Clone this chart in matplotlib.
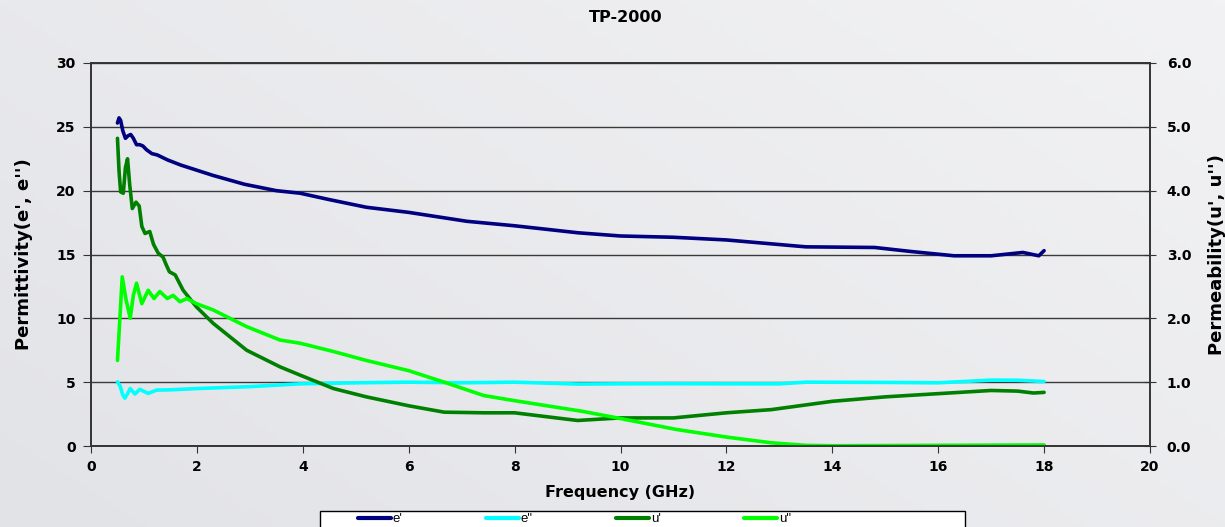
import numpy as np
import matplotlib
matplotlib.use("Agg")
import matplotlib.pyplot as plt
from matplotlib.patches import Rectangle

# ---- data (frequency in GHz) ----
f_e1 = [0.50, 0.53, 0.56, 0.60, 0.65, 0.70, 0.75, 0.80, 0.86, 0.92, 0.98, 1.05, 1.15,
        1.25, 1.45, 1.70, 2.0, 2.3, 2.9, 3.5, 3.95, 4.5, 5.2, 6, 7.1, 8, 9.2, 10, 11, 12,
        13.5, 14.8, 15.5, 16.3, 17.0, 17.6, 17.9, 18.0]
e1 = [25.3, 25.7, 25.5, 24.7, 24.1, 24.3, 24.4, 24.1, 23.6, 23.6, 23.5, 23.2, 22.9,
      22.8, 22.4, 22.0, 21.6, 21.2, 20.5, 20.0, 19.8, 19.3, 18.7, 18.3, 17.6, 17.25, 16.7,
      16.45, 16.35, 16.14, 15.6, 15.55, 15.23, 14.9, 14.9, 15.16, 14.9, 15.3]

f_e2 = [0.50, 0.55, 0.60, 0.64, 0.69, 0.74, 0.83, 0.92, 1.08, 1.24, 1.5, 2, 3, 3.95, 5,
        6, 7, 8, 9.2, 10, 11, 12, 13, 13.5, 15, 16, 17, 17.5, 18]
e2 = [5.03, 4.7, 4.0, 3.75, 4.1, 4.5, 4.07, 4.44, 4.12, 4.38, 4.4, 4.5, 4.65, 4.87, 4.95,
      5.0, 4.95, 5.0, 4.85, 4.87, 4.88, 4.87, 4.87, 5.0, 4.98, 4.95, 5.16, 5.15, 5.05]

f_u1 = [0.50, 0.53, 0.56, 0.61, 0.65, 0.69, 0.73, 0.78, 0.85, 0.91, 0.96, 1.02, 1.11,
        1.18, 1.27, 1.36, 1.42, 1.48, 1.59, 1.74, 1.99, 2.31, 2.94, 3.57, 3.95, 4.58, 5.2,
        6, 6.67, 7.42, 8, 8.69, 9.19, 10, 11, 12, 12.85, 14, 15, 16, 17, 17.5, 17.8, 18.0]
u1 = [4.82, 4.30, 3.98, 3.96, 4.36, 4.50, 4.10, 3.72, 3.82, 3.76, 3.44, 3.33, 3.36,
      3.16, 3.02, 2.96, 2.84, 2.73, 2.68, 2.44, 2.18, 1.92, 1.50, 1.24, 1.11, 0.90, 0.77,
      0.63, 0.53, 0.52, 0.52, 0.45, 0.40, 0.44, 0.44, 0.52, 0.57, 0.70, 0.77, 0.82, 0.87,
      0.86, 0.83, 0.84]

f_u2 = [0.50, 0.59, 0.66, 0.74, 0.80, 0.86, 0.96, 1.08, 1.19, 1.30, 1.44, 1.55, 1.68,
        1.81, 1.99, 2.31, 2.94, 3.57, 3.95, 4.58, 5.2, 6, 6.67, 7.42, 8, 8.69, 9.3, 10,
        11.05, 12, 12.85, 13.5, 14, 16, 18]
u2 = [1.34, 2.65, 2.30, 2.00, 2.36, 2.55, 2.23, 2.44, 2.31, 2.42, 2.31, 2.36, 2.26,
      2.31, 2.23, 2.13, 1.87, 1.66, 1.61, 1.48, 1.34, 1.18, 1.00, 0.79, 0.71, 0.62, 0.54,
      0.43, 0.26, 0.14, 0.05, 0.01, 0.004, 0.01, 0.016]

x_ticks = list(range(0, 21, 2))
left_ticks = [0, 5, 10, 15, 20, 25, 30]
right_ticks = [0.0, 1.0, 2.0, 3.0, 4.0, 5.0, 6.0]

plt.rcParams["font.family"] = ["DejaVu Sans"]

fig = plt.figure(figsize=(12.25, 5.27), dpi=100)
fig.patch.set_facecolor("#e6e7eb")

# soft background gradient like the original slide
bg = fig.add_axes([0, 0, 1, 1], zorder=-10)
gy, gx = np.mgrid[0:1:100j, 0:1:200j]
grad = 0.6 * gx + 0.4 * gy
bg.imshow(grad, cmap=matplotlib.colors.LinearSegmentedColormap.from_list(
    "bgc", ["#e2e3e7", "#f2f2f4"]), aspect="auto", extent=[0, 1, 0, 1], origin="lower")
bg.axis("off")

ax = fig.add_axes([91 / 1225, 81 / 527, 1059 / 1225, 383 / 527])
ax.set_facecolor("none")
ax2 = ax.twinx()

l1, = ax.plot(f_e1, e1, color="#000080", lw=2.6, label="e'", solid_capstyle="round")
l2, = ax.plot(f_e2, e2, color="#00ffff", lw=2.6, label='e"', solid_capstyle="round")
l3, = ax2.plot(f_u1, u1, color="#008000", lw=2.6, label="u'", solid_capstyle="round")
l4, = ax2.plot(f_u2, u2, color="#00ff00", lw=2.6, label='u"', solid_capstyle="round")

ax.set_xlim(0, 20)
ax.set_ylim(0, 30)
ax2.set_ylim(0, 6)
ax.set_xticks(x_ticks)
ax.set_yticks(left_ticks)
ax2.set_yticks(right_ticks)
ax2.set_yticklabels([f"{t:.1f}" for t in right_ticks])

for t in ax.get_xticklabels() + ax.get_yticklabels() + ax2.get_yticklabels():
    t.set_fontweight("bold")
    t.set_fontsize(10)

ax.grid(axis="y", color="#3a3a3a", lw=1)
ax.set_axisbelow(True)
for a in (ax, ax2):
    for s in a.spines.values():
        s.set_color("#333333")
        s.set_linewidth(1.2)
ax.tick_params(axis="x", direction="out", length=5, color="#333333", pad=5)
ax.tick_params(axis="y", direction="out", length=6, color="#333333", pad=5)
ax2.tick_params(axis="y", direction="inout", length=8, color="#333333", pad=8)

ax.set_xlabel("Frequency (GHz)", fontsize=11.5, fontweight="bold", labelpad=8)
ax.set_ylabel("Permittivity(e', e'')", fontsize=13, fontweight="bold", labelpad=17)
ax2.set_ylabel("Permeability(u', u'')", fontsize=13, fontweight="bold", labelpad=12)
fig.text(0.5105, 1 - 18 / 527, "TP-2000", ha="center", va="center",
         fontsize=11.5, fontweight="bold")

# legend box (runs off the bottom edge, as in the reference)
fig.patches.append(Rectangle((320 / 1225, -0.05), 645 / 1225, 0.05 + 16 / 527,
                             transform=fig.transFigure, facecolor="white",
                             edgecolor="black", lw=1, zorder=1))
leg = fig.legend(handles=[l1, l2, l3, l4], loc="center left", ncol=4,
                 bbox_to_anchor=(358 / 1225, 1 - 519 / 527),
                 prop={"family": "Liberation Sans", "size": 9.5},
                 handlelength=2.5, handletextpad=0.15, columnspacing=6.3,
                 frameon=False, borderpad=0, borderaxespad=0)
leg.set_zorder(2)
for h in leg.get_lines():
    h.set_linewidth(3)

fig.savefig("out.png", dpi=100, facecolor=fig.get_facecolor())
